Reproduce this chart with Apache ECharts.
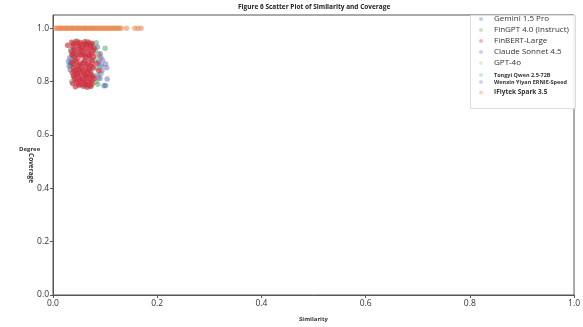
<!DOCTYPE html>
<html><head><meta charset="utf-8">
<script src="https://cdn.jsdelivr.net/npm/echarts@6/dist/echarts.min.js"></script>
<style>html,body{margin:0;padding:0;background:#fff}#c{width:583px;height:327px}</style>
</head><body><div id="c"></div>
<script>
var seriesNames = ['Gemini 1.5 Pro','FinGPT 4.0 (Instruct)','FinBERT-Large','Claude Sonnet 4.5','GPT-4o','Tongyi Qwen 2.5-72B','Wenxin Yiyan ERNIE-Speed','IFlytek Spark 3.5'];
var xTicks = [0, 0.2, 0.4, 0.6, 0.8, 1.0];
var yTicks = [0, 0.2, 0.4, 0.6, 0.8, 1.0];

var gemini = [[0.030,0.876],[0.034,0.868],[0.031,0.859],[0.037,0.884],[0.033,0.845],[0.098,0.785],[0.101,0.786],[0.090,0.812],[0.085,0.930],[0.039,0.905],[0.088,0.875],[0.060,0.905],[0.048,0.830],[0.093,0.860]];
var fingpt = [[0.040,0.943],[0.047,0.952],[0.058,0.943],[0.066,0.951],[0.074,0.939],[0.083,0.946],[0.034,0.921],[0.081,0.918],[0.100,0.925],[0.036,0.896],[0.080,0.880],[0.035,0.860],[0.083,0.850],[0.040,0.820],[0.078,0.822],[0.036,0.800],[0.050,0.786],[0.062,0.784],[0.073,0.782],[0.082,0.800],[0.087,0.905],[0.055,0.860],[0.068,0.840],[0.045,0.905],[0.092,0.830],[0.086,0.790]];
var finbert = [[0.036,0.948],[0.044,0.951],[0.052,0.947],[0.061,0.950],[0.069,0.946],[0.075,0.944],
[0.038,0.931],[0.047,0.935],[0.055,0.928],[0.064,0.933],[0.072,0.929],[0.079,0.925],
[0.035,0.912],[0.042,0.917],[0.050,0.909],[0.058,0.915],[0.067,0.911],[0.074,0.906],
[0.040,0.895],[0.048,0.889],[0.056,0.898],[0.063,0.892],[0.071,0.887],[0.078,0.894],
[0.036,0.872],[0.045,0.876],[0.053,0.869],[0.060,0.878],[0.068,0.871],[0.076,0.866],
[0.039,0.853],[0.047,0.858],[0.055,0.850],[0.062,0.856],[0.070,0.848],[0.077,0.852],
[0.037,0.834],[0.044,0.829],[0.052,0.838],[0.059,0.831],[0.066,0.836],[0.073,0.827],
[0.041,0.812],[0.049,0.817],[0.057,0.809],[0.064,0.814],[0.071,0.807],[0.079,0.811],
[0.038,0.793],[0.046,0.797],[0.054,0.789],[0.061,0.795],[0.069,0.787],[0.075,0.791],
[0.043,0.781],[0.058,0.783],[0.066,0.779],[0.028,0.937],[0.085,0.868],[0.088,0.842],
[0.050,0.925],[0.058,0.870],[0.045,0.845],[0.065,0.820],[0.053,0.800],[0.070,0.900],[0.042,0.880],[0.062,0.940],
[0.039,0.940],[0.048,0.943],[0.056,0.938],[0.066,0.941],[0.073,0.936],[0.041,0.922],[0.053,0.919],[0.061,0.923],
[0.069,0.920],[0.077,0.915],[0.037,0.902],[0.045,0.899],[0.053,0.903],[0.060,0.900],[0.068,0.897],[0.075,0.880],
[0.039,0.865],[0.050,0.862],[0.065,0.864],[0.073,0.858],[0.042,0.842],[0.050,0.846],[0.057,0.841],[0.064,0.844],
[0.072,0.839],[0.039,0.822],[0.047,0.826],[0.055,0.823],[0.062,0.826],[0.070,0.821],[0.076,0.818],[0.044,0.805],
[0.051,0.808],[0.060,0.803],[0.067,0.800],[0.074,0.802],[0.049,0.788],[0.063,0.790],[0.072,0.784]];
var claude = [[0.101,0.866],[0.103,0.852],[0.095,0.880],[0.091,0.905],[0.089,0.895],[0.104,0.810],[0.032,0.890],[0.086,0.825],[0.094,0.842],[0.070,0.860]];
var gpt4o = [[0.045,0.870],[0.060,0.820],[0.083,0.900],[0.052,0.940],[0.070,0.800]];
var tongyi = [[0.035,0.880],[0.090,0.860],[0.055,0.810],[0.078,0.930]];
var wenxin = [[0.092,0.890],[0.040,0.840],[0.062,0.880],[0.087,0.815]];
var iflytekX = [0.005,0.008,0.011,0.014,0.016,0.019,0.022,0.025,0.027,0.030,0.033,0.036,0.038,0.041,0.044,0.047,0.049,0.052,0.055,0.058,0.061,0.063,0.066,0.069,0.072,0.075,0.077,0.080,0.083,0.086,0.089,0.092,0.095,0.098,0.101,0.104,0.107,0.110,0.113,0.116,0.119,0.122,0.125,0.128,0.131,0.141,0.157,0.163,0.169];
var iflytekY = [1,1,1,1,1,1,1,1,1,1,1,1,1,1,1,1,1,1,1,1,1,1,1,1,1,1,1,1,1,1,1,1,1,1,1,1,1,1,1,1,1,1,1,1,1,1,1,1,1];

var colors = ['#4c72b0','#55a868','#d0303f','#8172b2','#ccb974','#64b5cd','#8c7fb0','#e8864f'];
var dataMap = {};
dataMap[seriesNames[0]] = gemini;
dataMap[seriesNames[1]] = fingpt;
dataMap[seriesNames[2]] = finbert;
dataMap[seriesNames[3]] = claude;
dataMap[seriesNames[4]] = gpt4o;
dataMap[seriesNames[5]] = tongyi;
dataMap[seriesNames[6]] = wenxin;
dataMap[seriesNames[7]] = iflytekX.map(function(x,i){return [x, iflytekY[i]];});

var drawOrder = [0,1,3,4,5,6,2,7];
var series = drawOrder.map(function(i){
  return {
    type:'scatter', name: seriesNames[i], data: dataMap[seriesNames[i]],
    symbolSize: 5.5, itemStyle:{color: colors[i], opacity: i === 2 ? 0.65 : 0.55},
    emphasis:{disabled:true}, z: 2
  };
});

var legendTops = [20, 31, 42, 53, 64, 75, 82, 94];
var FONT = '"Open Sans", "Noto Sans", sans-serif';
var legends = seriesNames.map(function(n, i){
  var small = (i === 5 || i === 6);
  var mid = (i === 7);
  return {
    data:[{name:n, icon:'circle', itemStyle:{opacity:0.35}}],
    left: 479, top: legendTops[i] - (small ? 3 : 5),
    itemWidth: 4, itemHeight: 4, padding: 0,
    selectedMode: false,
    textStyle: {fontFamily: FONT, fontSize: small ? 5.5 : (mid ? 6.5 : 8),
      fontWeight: (small || mid) ? 'bold' : 'normal', color: '#333', padding:[0,0,0,6]}
  };
});

var option = {
  animation: false,
  color: colors,
  title: {text:'Figure 6 Scatter Plot of Similarity and Coverage', left: 233, top: -1,
    textStyle:{fontFamily: FONT, fontSize: 6.5, fontWeight:'bold', color:'#222'}},
  legend: legends,
  grid: {left: 53, right: 7, top: 15, bottom: 27, show: true, borderColor: '#555', borderWidth: 1},
  xAxis: {type:'value', min: 0, max: 1, interval: 0.2,
    name: 'Similarity', nameLocation: 'middle', nameGap: 21,
    nameTextStyle:{fontFamily: FONT, fontSize: 6, fontWeight:'bold', color:'#333'},
    axisLine:{lineStyle:{color:'#555'}}, splitLine:{show:false},
    axisTick:{length:3, lineStyle:{color:'#555'}},
    axisLabel:{fontFamily: FONT, fontSize: 8.5, color:'#333', margin: 4, formatter: function(v){return v.toFixed(1);},
      customValues: xTicks}
  },
  yAxis: {type:'value', min: 0, max: 1.05,
    axisLine:{show:true, lineStyle:{color:'#555'}}, splitLine:{show:false},
    axisTick:{show:true, length:3, lineStyle:{color:'#555'}, customValues: yTicks},
    axisLabel:{fontFamily: FONT, fontSize: 8.5, color:'#333', margin: 4, formatter: function(v){return v.toFixed(1);},
      customValues: yTicks}
  },
  graphic: [
    {type:'rect', left: 470, top: 15, shape:{width: 105, height: 93},
      style:{fill:'rgba(255,255,255,0.85)', stroke:'#ddd', lineWidth:1}, z: 1},
    {type:'text', left: 19, top: 146, style:{text:'Degree', font:'bold 6px ' + FONT, fill:'#333'}},
    {type:'text', x: 34, y: 153, rotation: -Math.PI/2,
      style:{text:'Coverage', font:'bold 6.5px ' + FONT, fill:'#333'}}
  ],
  series: series
};
var chart = echarts.init(document.getElementById('c'), null, {renderer:'canvas'});
chart.setOption(option);
</script></body></html>
